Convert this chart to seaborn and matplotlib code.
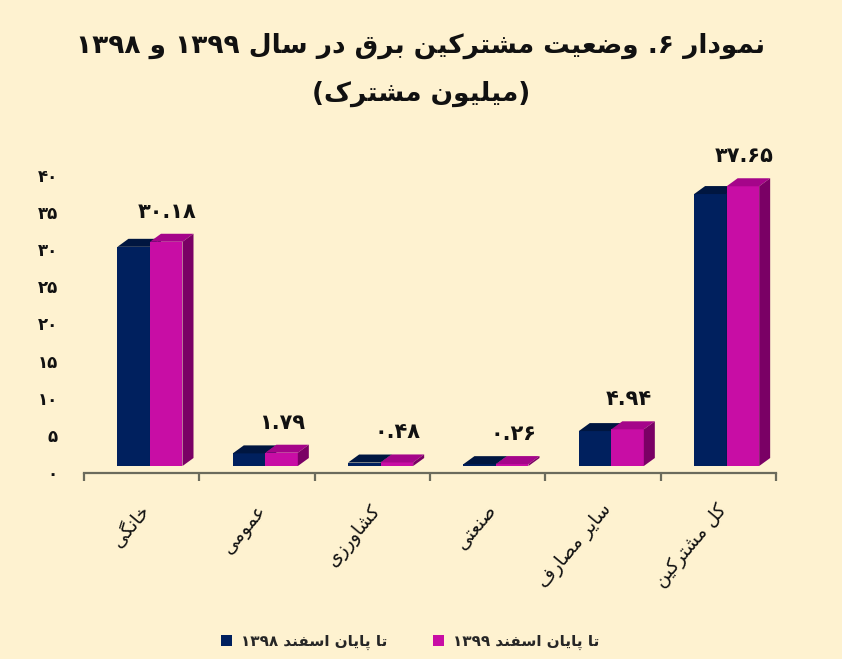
import re
import matplotlib
matplotlib.use("Agg")
import matplotlib.pyplot as plt
from matplotlib.patches import Polygon, Patch
from matplotlib.transforms import ScaledTranslation
import seaborn as sns
import pandas as pd

# ---------------- data ----------------
categories = ["خانگی", "عمومی", "کشاورزی", "صنعتی", "سایر مصارف", "کل مشترکین"]
values_1398 = [29.50, 1.70, 0.47, 0.25, 4.70, 36.60]
values_1399 = [30.18, 1.79, 0.48, 0.26, 4.94, 37.65]
series_names = ["تا پایان اسفند ۱۳۹۸", "تا پایان اسفند ۱۳۹۹"]
y_ticks = [0, 5, 10, 15, 20, 25, 30, 35, 40]
title_line1 = "نمودار ۶. وضعیت مشترکین برق در سال ۱۳۹۹ و ۱۳۹۸"
title_line2 = "(میلیون مشترک)"

# ---------------- simple Persian shaping + bidi ----------------
FORMS = {
    "\u0627": ("\uFE8D", "\uFE8E", None, None),
    "\u0622": ("\uFE81", "\uFE82", None, None),
    "\u0628": ("\uFE8F", "\uFE90", "\uFE91", "\uFE92"),
    "\u067E": ("\uFB56", "\uFB57", "\uFB58", "\uFB59"),
    "\u062A": ("\uFE95", "\uFE96", "\uFE97", "\uFE98"),
    "\u062B": ("\uFE99", "\uFE9A", "\uFE9B", "\uFE9C"),
    "\u062C": ("\uFE9D", "\uFE9E", "\uFE9F", "\uFEA0"),
    "\u0686": ("\uFB7A", "\uFB7B", "\uFB7C", "\uFB7D"),
    "\u062D": ("\uFEA1", "\uFEA2", "\uFEA3", "\uFEA4"),
    "\u062E": ("\uFEA5", "\uFEA6", "\uFEA7", "\uFEA8"),
    "\u062F": ("\uFEA9", "\uFEAA", None, None),
    "\u0630": ("\uFEAB", "\uFEAC", None, None),
    "\u0631": ("\uFEAD", "\uFEAE", None, None),
    "\u0632": ("\uFEAF", "\uFEB0", None, None),
    "\u0698": ("\uFB8A", "\uFB8B", None, None),
    "\u0633": ("\uFEB1", "\uFEB2", "\uFEB3", "\uFEB4"),
    "\u0634": ("\uFEB5", "\uFEB6", "\uFEB7", "\uFEB8"),
    "\u0635": ("\uFEB9", "\uFEBA", "\uFEBB", "\uFEBC"),
    "\u0636": ("\uFEBD", "\uFEBE", "\uFEBF", "\uFEC0"),
    "\u0637": ("\uFEC1", "\uFEC2", "\uFEC3", "\uFEC4"),
    "\u0638": ("\uFEC5", "\uFEC6", "\uFEC7", "\uFEC8"),
    "\u0639": ("\uFEC9", "\uFECA", "\uFECB", "\uFECC"),
    "\u063A": ("\uFECD", "\uFECE", "\uFECF", "\uFED0"),
    "\u0641": ("\uFED1", "\uFED2", "\uFED3", "\uFED4"),
    "\u0642": ("\uFED5", "\uFED6", "\uFED7", "\uFED8"),
    "\u06A9": ("\uFB8E", "\uFB8F", "\uFB90", "\uFB91"),
    "\u06AF": ("\uFB92", "\uFB93", "\uFB94", "\uFB95"),
    "\u0644": ("\uFEDD", "\uFEDE", "\uFEDF", "\uFEE0"),
    "\u0645": ("\uFEE1", "\uFEE2", "\uFEE3", "\uFEE4"),
    "\u0646": ("\uFEE5", "\uFEE6", "\uFEE7", "\uFEE8"),
    "\u0648": ("\uFEED", "\uFEEE", None, None),
    "\u0647": ("\uFEE9", "\uFEEA", "\uFEEB", "\uFEEC"),
    "\u06CC": ("\uFBFC", "\uFBFD", "\uFBFE", "\uFBFF"),
}


def shape(s):
    out = []
    for i, ch in enumerate(s):
        f = FORMS.get(ch)
        if f is None:
            out.append(ch)
            continue
        prev = s[i - 1] if i > 0 else ""
        nxt = s[i + 1] if i + 1 < len(s) else ""
        pj = prev in FORMS and FORMS[prev][2] is not None
        nj = nxt in FORMS and f[2] is not None
        if pj and nj:
            out.append(f[3])
        elif pj:
            out.append(f[1])
        elif nj:
            out.append(f[2])
        else:
            out.append(f[0])
    return "".join(out)


DIG = "0-9\u06F0-\u06F9"


def rtl(s):
    v = shape(s)[::-1]
    v = re.sub("[%s]+(?:\\.[%s]+)*" % (DIG, DIG), lambda m: m.group(0)[::-1], v)
    return v.translate(str.maketrans({"(": ")", ")": "("}))


def fa(x):
    return str(x).translate(str.maketrans("0123456789", "۰۱۲۳۴۵۶۷۸۹"))


# ---------------- figure ----------------
BG = "#FEF2D0"
NAVY, NAVY_TOP = "#00205E", "#001640"
MAG, MAG_TOP, MAG_SIDE = "#C80DA5", "#A5058A", "#7A0065"
AXC = "#6B6B5C"

sns.set_theme(style="white")
plt.rcParams["font.family"] = ["DejaVu Sans"]

fig = plt.figure(figsize=(8.42, 6.59), dpi=100, facecolor=BG)
ax = fig.add_axes([84 / 842, 1 - 473 / 659, (776 - 84) / 842, (473 - 168.8) / 659])
ax.set_facecolor(BG)

df = pd.DataFrame({
    "cat": categories * 2,
    "val": values_1398 + values_1399,
    "series": [series_names[0]] * len(categories) + [series_names[1]] * len(categories),
})
sns.barplot(data=df, x="cat", y="val", hue="series", order=categories,
            hue_order=series_names, palette=[NAVY, MAG], width=0.564,
            saturation=1, linewidth=0, legend=False, ax=ax)

ax.set_ylim(-0.94, 40)
ax.set_xlim(-0.572, 5.428)

# 3D depth faces derived from the bar geometry
fig.canvas.draw()
px_x = ax.get_window_extent().width / (ax.get_xlim()[1] - ax.get_xlim()[0])
px_y = ax.get_window_extent().height / (ax.get_ylim()[1] - ax.get_ylim()[0])
ddx, ddy = 11 / px_x, 8 / px_y
for k, (cont, top_c, side_c) in enumerate(zip(ax.containers, [NAVY_TOP, MAG_TOP], [NAVY_TOP, MAG_SIDE])):
    for p in cont.patches:
        p.set_zorder(2 + k)
        x0, y0, w, h = p.get_x(), p.get_y(), p.get_width(), p.get_height()
        y1 = y0 + h
        ax.add_patch(Polygon([(x0, y1), (x0 + w, y1), (x0 + w + ddx, y1 + ddy), (x0 + ddx, y1 + ddy)],
                             closed=True, facecolor=top_c, edgecolor="none", zorder=2.1 + k))
        ax.add_patch(Polygon([(x0 + w, y0), (x0 + w + ddx, y0 + ddy), (x0 + w + ddx, y1 + ddy), (x0 + w, y1)],
                             closed=True, facecolor=side_c, edgecolor="none", zorder=2.1 + k))

# value labels (1399 series)
for p, v in zip(ax.containers[1].patches, values_1399):
    ax.annotate(fa("%.2f" % v), (p.get_x() + p.get_width() / 2, p.get_height()),
                xytext=(1, 20), textcoords="offset pixels", ha="center", va="bottom",
                fontsize=15, fontweight="bold", color="#111111", zorder=5)

# axes styling
for s in ["left", "top", "right"]:
    ax.spines[s].set_visible(False)
ax.spines["bottom"].set_color(AXC)
ax.spines["bottom"].set_linewidth(1.6)

ax.set_yticks(y_ticks)
ax.set_yticklabels([fa(t) for t in y_ticks], fontsize=12, fontweight="bold", color="#111111")
ax.tick_params(axis="y", length=0, pad=19)
for lbl in ax.get_yticklabels():
    lbl.set_transform(lbl.get_transform() + ScaledTranslation(0, -0.06, fig.dpi_scale_trans))

bounds = [-0.572 + i for i in range(len(categories) + 1)]
ax.set_xticks(bounds)
ax.set_xticklabels([""] * len(bounds))
ax.tick_params(axis="x", which="major", bottom=True, length=6, width=1.6, color=AXC, direction="out")
ax.set_xticks([i - 0.09 for i in range(len(categories))], minor=True)
ax.set_xticklabels([rtl(c) for c in categories], minor=True, rotation=50,
                   ha="right", va="top", rotation_mode="anchor", fontsize=13.5, color="#111111")
ax.tick_params(axis="x", which="minor", bottom=True, length=0, pad=20)
ax.set_xlabel("")
ax.set_ylabel("")
ax.grid(False)

# title
fig.text(0.5, 1 - 46 / 659, rtl(title_line1), ha="center", va="center",
         fontsize=19, fontweight="bold", color="#111111")
fig.text(0.5, 1 - 94 / 659, rtl(title_line2), ha="center", va="center",
         fontsize=19, fontweight="bold", color="#111111")

# legend
handles = [Patch(facecolor=NAVY, edgecolor="none"), Patch(facecolor=MAG, edgecolor="none")]
fig.legend(handles, [rtl(n) for n in series_names], loc="center", bbox_to_anchor=(410 / 842, 1 - 642 / 659),
           ncol=2, frameon=False, handlelength=0.7, handleheight=0.7, handletextpad=0.6,
           columnspacing=3.0, prop={"size": 11, "weight": "bold"})

fig.savefig("out.png", dpi=100, facecolor=BG)
